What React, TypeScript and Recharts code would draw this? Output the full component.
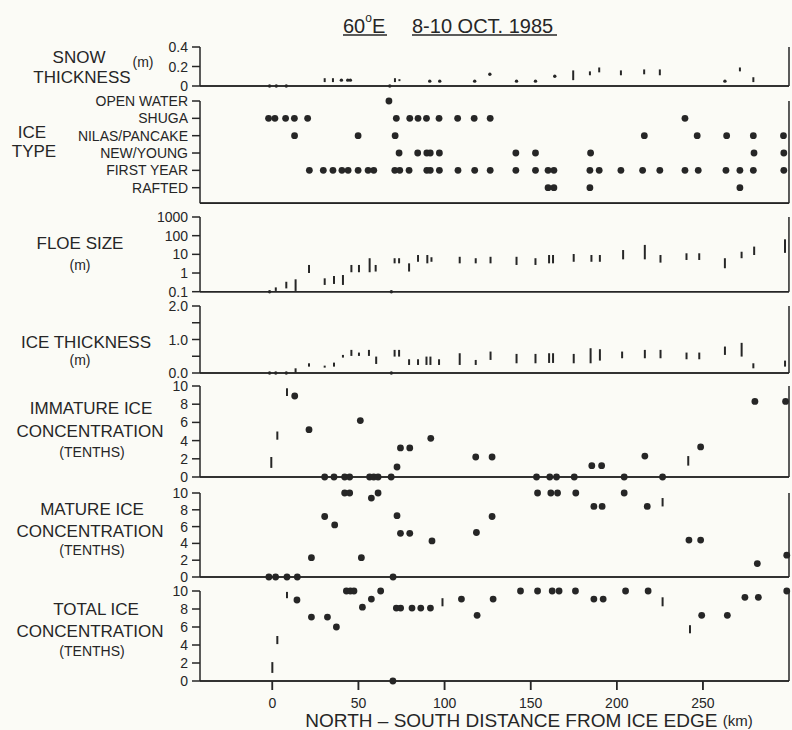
import React from 'react';
import { ComposedChart, Scatter, XAxis, YAxis, ErrorBar } from 'recharts';

// distance axis (km)
const X_DOMAIN: [number, number] = [-42, 300];
const X_TICKS = [0, 50, 100, 150, 200, 250];

// snow thickness (m): dots [km, m], bars [km, low, high]
const snowDots = [[-1.6, 0], [2.3, 0], [8.1, 0], [40.1, 0.06], [43.8, 0.06], [45.3, 0.06], [68.2, 0], [91.4, 0.05], [97.2, 0.05], [117.5, 0.05], [126.3, 0.12], [141.8, 0.05], [152.8, 0.05], [164, 0.1], [262.8, 0.05]];
const snowBars = [[30.4, 0.04, 0.08], [35.2, 0.04, 0.08], [71.2, 0.04, 0.08], [73.8, 0.05, 0.07], [174.7, 0.06, 0.16], [184.4, 0.11, 0.15], [189.8, 0.14, 0.19], [202.4, 0.11, 0.16], [215.9, 0.12, 0.17], [225, 0.11, 0.17], [271.5, 0.15, 0.19], [279.3, 0.04, 0.09]];

// ice type, bottom to top
const ICE_TYPES = ['RAFTED', 'FIRST YEAR', 'NEW/YOUNG', 'NILAS/PANCAKE', 'SHUGA', 'OPEN WATER'];
const rafted = [160.1, 163.5, 184.4, 271.5];
const firstYear = [21.5, 29.6, 35.2, 40.4, 44, 49.8, 55.6, 58.9, 71.1, 74, 79.4, 89.7, 91.7, 97, 107.8, 117.5, 126.5, 141.4, 152.8, 160.1, 163.5, 184.4, 189.8, 202.4, 215, 225, 239.6, 247.3, 263.4, 271.5, 279.3, 297];
const newYoung = [73.6, 84.4, 89.7, 91.7, 97, 141.4, 152.8, 184.8, 279.7, 297];
const nilas = [12.9, 49.8, 71.3, 216, 246.7, 263.8, 279.3, 296.8];
const shuga = [-2.2, 1.5, 7.7, 12.8, 20.5, 72, 79.8, 84.6, 89.5, 96.8, 107.6, 117.2, 126.5, 239.6];
const openWater = [67.7];

// floe size (m), log scale
const floeDots = [[-1.6, 0.1], [69.1, 0.1]];
const floeBars = [[2, 0.11, 0.17], [8.1, 0.15, 0.34], [13.5, 0.11, 0.46], [21.3, 1.0, 2.7], [30.4, 0.23, 0.52], [35.8, 0.26, 0.69], [41, 0.23, 0.78], [45.9, 1.1, 2.7], [50.3, 1.1, 2.7], [56.5, 1.1, 6.2], [60, 1.2, 2.7], [71, 3.3, 6.2], [73.6, 3.3, 6.2], [79.4, 1.2, 3.3], [84.6, 4.0, 9.2], [90, 3.3, 9.2], [92.4, 4.0, 7.0], [108.8, 3.3, 7.4], [118.1, 3.3, 6.2], [126.7, 3.3, 7.4], [141.8, 2.7, 7.4], [152.8, 2.7, 6.2], [160.7, 3.3, 9.2], [163, 3.3, 9.2], [175, 4.0, 10.4], [185.3, 4.0, 9.2], [190.2, 4.0, 9.2], [203.7, 5.4, 17], [216.3, 5.4, 32], [225.4, 3.6, 9.2], [240.5, 5.0, 11.4], [247.9, 5.0, 11.4], [262.8, 1.8, 6.2], [272.5, 6.2, 13.8], [279.8, 9.2, 26], [297.7, 12, 64]];

// ice thickness (m)
const thickDots = [[-1.6, 0], [2, 0], [8.1, 0], [69.1, 0]];
const thickBars = [[13.5, 0, 0.14], [21.3, 0.19, 0.29], [30.4, 0.16, 0.22], [35.8, 0.19, 0.31], [41, 0.46, 0.54], [45.9, 0.51, 0.69], [50.3, 0.51, 0.61], [56.1, 0.51, 0.69], [60.3, 0.27, 0.49], [71, 0.49, 0.69], [73.6, 0.49, 0.69], [79.4, 0.24, 0.41], [84.6, 0.24, 0.41], [89.5, 0.24, 0.49], [91.8, 0.24, 0.49], [96.8, 0.24, 0.41], [108.8, 0.24, 0.59], [118.1, 0.24, 0.39], [126.7, 0.39, 0.64], [141.8, 0.29, 0.57], [152.8, 0.29, 0.57], [160.7, 0.3, 0.59], [163, 0.3, 0.59], [175, 0.29, 0.57], [184.8, 0.29, 0.74], [190.2, 0.37, 0.71], [203.1, 0.44, 0.64], [216.3, 0.44, 0.69], [225.4, 0.44, 0.69], [240.5, 0.41, 0.61], [247.9, 0.41, 0.61], [262.8, 0.54, 0.79], [272.5, 0.49, 0.9], [279.3, 0.14, 0.29], [297.7, 0.19, 0.37]];

// concentrations (tenths)
const immatureDots = [[13, 8.9], [21.3, 5.2], [30.4, 0], [35.8, 0], [42, 0], [44.9, 0], [51.1, 6.2], [56.5, 0], [58.9, 0], [61.4, 0], [69, 0], [72.4, 1.1], [74.4, 3.2], [79.8, 3.2], [92, 4.25], [118.1, 2.2], [127.6, 2.2], [153.4, 0], [161.1, 0], [165, 0], [175.3, 0], [185.5, 1.25], [191.2, 1.25], [204.3, 0], [216.3, 2.3], [226.6, 0], [248.7, 3.3], [280.2, 8.3], [298, 8.3]];
const immatureBars = [[-0.6, 1.0, 2.2], [2.9, 4.1, 5.0], [8.5, 8.9, 9.75], [241.5, 1.25, 2.3]];

const matureDots = [[-2, 0], [1.9, 0], [8.5, 0], [14.5, 0], [22.7, 2.3], [30.4, 7.2], [36.2, 6.2], [42, 10], [44.9, 10], [51.7, 2.3], [57.5, 9.4], [61.4, 10], [70.1, 0], [72.4, 7.3], [74.4, 5.2], [79.8, 5.2], [92.7, 4.3], [118.5, 5.3], [127.6, 7.2], [154, 10], [161.7, 10], [165.6, 10], [176.2, 10], [186.7, 8.4], [191.5, 8.4], [204.3, 10], [217.7, 8.4], [241.9, 4.4], [248.7, 4.4], [281.6, 1.6], [298.7, 2.6]];
const matureBars = [[226.6, 8.4, 9.4]];

const totalDots = [[14.3, 9.0], [22.7, 7.1], [32, 7.1], [37.2, 6.0], [43, 10], [45.3, 10], [47.4, 10], [52.3, 8.2], [57.5, 9.1], [62.9, 10], [70, 0], [72, 8.1], [74.5, 8.1], [81.1, 8.1], [86.2, 8.1], [91.8, 8.1], [109.8, 9.1], [118.9, 7.3], [128.2, 9.1], [144.1, 10], [154, 10], [162.5, 10], [166.5, 10], [176, 10], [186.7, 9.1], [192.1, 9.1], [205.1, 10], [218.2, 10], [249.3, 7.3], [264.2, 7.3], [274.4, 9.3], [282.2, 9.3], [298.7, 10]];
const totalBars = [[0, 0.9, 2.1], [2.9, 4.1, 5.0], [8.5, 9.2, 9.9], [98.8, 8.3, 9.2], [226.6, 8.3, 9.3], [242.5, 5.3, 6.2]];

const INK = '#262626';
const BG = '#fbfbf6';
const FONT = '"Liberation Sans", Arial, Helvetica, sans-serif';

// page layout: plot spans x 200..789, panel base lines at these y
const PLOT_L = 200;
const PLOT_R = 789;
const BASES = [86, 203, 291.7, 373, 477, 577, 681];
const TICK_LEN = 9;

const toDots = (arr: number[][]) => arr.map(([x, y]) => ({ x, y }));
const toBars = (arr: number[][]) => arr.map(([x, lo, hi]) => ({ x, y: lo, err: [0, hi - lo] }));
const xPix = (v: number) => PLOT_L + ((v - X_DOMAIN[0]) / (X_DOMAIN[1] - X_DOMAIN[0])) * (PLOT_R - PLOT_L);

const iceTypeDots = [rafted, firstYear, newYoung, nilas, shuga, openWater].flatMap((xs, i) =>
  xs.map((x) => ({ x, y: i }))
);

const X_MID = (X_DOMAIN[0] + X_DOMAIN[1]) / 2;
const X_HALF = (X_DOMAIN[1] - X_DOMAIN[0]) / 2;
const none = () => <g />;

// tick labels drawn as plain text so long category names don't wrap
const yTick = (fmt: (v: number) => string) => (p: any) => (
  <text x={p.x} y={p.y} textAnchor="end" dominantBaseline="central" fontSize={14} fill={INK} fontFamily={FONT}>
    {fmt(p.payload.value)}
  </text>
);

const xTick = (p: any) => (
  <text x={p.x} y={p.y} textAnchor="middle" dominantBaseline="central" fontSize={14} fill={INK} fontFamily={FONT}>
    {p.payload.value}
  </text>
);

interface PanelProps {
  top: number;
  bottom: number;
  domain: [number, number];
  below?: number; // extra room under the base line, used for the distance tick marks
  log?: boolean;
  ticks: number[];
  fmt: (v: number) => string;
  dots?: { x: number; y: number }[];
  small?: { x: number; y: number }[];
  bars?: { x: number; y: number; err: number[] }[];
}

const Panel: React.FC<PanelProps> = ({ top, bottom, domain, below = 0, log = false, ticks, fmt, dots = [], small = [], bars = [] }) => {
  const xAxis = below > 0;
  const mt = 8;
  const mb = xAxis ? 0 : 8;
  const xh = xAxis ? 28 : 0;
  const h = bottom - top + mt + mb + xh;
  const yDomain: [number, number] = [domain[0] - below, domain[1]];
  const scaleProps = log ? { scale: 'log' as const } : {};
  const base = [{ x: X_MID, y: domain[0], ex: [X_HALF, X_HALF] }];
  const sides = xAxis ? X_DOMAIN.map((x) => ({ x, y: domain[0], ey: [0, domain[1] - domain[0]] })) : [];
  const xMarks = xAxis ? X_TICKS.map((x) => ({ x, y: yDomain[0], ey: [0, below] })) : [];
  return (
    <div style={{ position: 'absolute', left: 0, top: top - mt }}>
      <ComposedChart width={792} height={h} margin={{ top: mt, right: 0, bottom: mb, left: 140 }}>
        <XAxis
          type="number"
          dataKey="x"
          domain={X_DOMAIN}
          ticks={X_TICKS}
          height={xh}
          axisLine={false}
          tickLine={false}
          tick={xAxis ? xTick : false}
          tickSize={0}
          tickMargin={13}
        />
        <YAxis
          yAxisId="l"
          type="number"
          dataKey="y"
          {...scaleProps}
          domain={yDomain}
          ticks={ticks}
          interval={0}
          width={60}
          axisLine={xAxis ? false : { stroke: INK, strokeWidth: 1.5 }}
          tickLine={{ stroke: INK, strokeWidth: 1.5 }}
          tickSize={8}
          tickMargin={4}
          tick={yTick(fmt)}
        />
        <YAxis
          yAxisId="r"
          orientation="right"
          type="number"
          dataKey="y"
          {...scaleProps}
          domain={yDomain}
          ticks={ticks}
          interval={0}
          width={3}
          tick={false}
          tickSize={5}
          axisLine={xAxis ? false : { stroke: INK, strokeWidth: 1.5 }}
          tickLine={{ stroke: INK, strokeWidth: 1.5 }}
        />
        <Scatter yAxisId="l" data={base} isAnimationActive={false} shape={none}>
          <ErrorBar dataKey="ex" direction="x" width={0} stroke={INK} strokeWidth={1.5} />
        </Scatter>
        {xAxis && (
          <Scatter yAxisId="l" data={[...sides, ...xMarks]} isAnimationActive={false} shape={none}>
            <ErrorBar dataKey="ey" direction="y" width={0} stroke={INK} strokeWidth={1.5} />
          </Scatter>
        )}
        <Scatter
          yAxisId="l"
          data={dots}
          isAnimationActive={false}
          shape={(p: any) => <circle cx={p.cx} cy={p.cy} r={3.4} fill={INK} />}
        />
        <Scatter
          yAxisId="l"
          data={small}
          isAnimationActive={false}
          shape={(p: any) => <circle cx={p.cx} cy={p.cy} r={1.7} fill={INK} />}
        />
        <Scatter yAxisId="l" data={bars} isAnimationActive={false} shape={none}>
          <ErrorBar dataKey="err" direction="y" width={0} stroke={INK} strokeWidth={2} />
        </Scatter>
      </ComposedChart>
    </div>
  );
};

const T = ({ x, y, size = 17, children }: { x: number; y: number; size?: number; children: React.ReactNode }) => (
  <text x={x} y={y} fontSize={size} textAnchor="middle" dominantBaseline="central" fill={INK} fontFamily={FONT}>
    {children}
  </text>
);

export default function App() {
  const one = (v: number) => (v === 0 ? '0' : v.toFixed(1));
  const lastBase = BASES[BASES.length - 1];
  return (
    <div style={{ position: 'absolute', left: 0, top: 0, width: 792, height: 730, background: BG, overflow: 'hidden' }}>
      <Panel top={47} bottom={86} domain={[0, 0.4]} ticks={[0, 0.2, 0.4]} fmt={one} small={toDots(snowDots)} bars={toBars(snowBars)} />
      <Panel top={100.7} bottom={203} domain={[-0.9, 5]} ticks={[0, 1, 2, 3, 4, 5]} fmt={(v) => ICE_TYPES[v] ?? ''} dots={iceTypeDots} />
      <Panel top={217} bottom={291.7} domain={[0.1, 1000]} log ticks={[0.1, 1, 10, 100, 1000]} fmt={(v) => String(v)} small={toDots(floeDots)} bars={toBars(floeBars)} />
      <Panel top={306} bottom={373} domain={[0, 2]} ticks={[0, 0.5, 1, 1.5, 2]} fmt={(v) => (v % 1 === 0 ? v.toFixed(1) : '')} small={toDots(thickDots)} bars={toBars(thickBars)} />
      <Panel top={386} bottom={477} domain={[0, 10]} ticks={[0, 2, 4, 6, 8, 10]} fmt={(v) => String(v)} dots={toDots(immatureDots)} bars={toBars(immatureBars)} />
      <Panel top={493} bottom={577} domain={[0, 10]} ticks={[0, 2, 4, 6, 8, 10]} fmt={(v) => String(v)} dots={toDots(matureDots)} bars={toBars(matureBars)} />
      <Panel top={591} bottom={lastBase + TICK_LEN} domain={[0, 10]} below={1} ticks={[0, 2, 4, 6, 8, 10]} fmt={(v) => String(v)} dots={toDots(totalDots)} bars={toBars(totalBars)} />

      <svg width={792} height={730} style={{ position: 'absolute', left: 0, top: 0, pointerEvents: 'none' }}>
        {/* panel frame: base rules and distance tick marks */}
        {BASES.map((y) => (
          <line key={y} x1={PLOT_L} x2={PLOT_R} y1={y} y2={y} stroke={INK} strokeWidth={1.5} />
        ))}
        {X_TICKS.map((t) => (
          <line key={t} x1={xPix(t)} x2={xPix(t)} y1={lastBase} y2={lastBase + TICK_LEN} stroke={INK} strokeWidth={1.5} />
        ))}

        <text x={343} y={26} fontSize={20} fill={INK} fontFamily={FONT} dominantBaseline="central">
          60<tspan fontSize={12} dy={-8}>o</tspan><tspan dy={8}>E</tspan>
        </text>
        <line x1={343} x2={387} y1={35} y2={35} stroke={INK} strokeWidth={1.4} />
        <text x={412} y={26} fontSize={20} fill={INK} fontFamily={FONT} dominantBaseline="central">8-10 OCT. 1985</text>
        <line x1={412} x2={557} y1={35} y2={35} stroke={INK} strokeWidth={1.4} />

        <T x={79} y={57}>SNOW</T>
        <T x={82} y={77}>THICKNESS</T>
        <T x={143} y={62} size={14}>(m)</T>

        <T x={32} y={132}>ICE</T>
        <T x={34} y={151}>TYPE</T>

        <T x={80} y={243}>FLOE SIZE</T>
        <T x={80} y={265} size={14}>(m)</T>

        <T x={86} y={342}>ICE THICKNESS</T>
        <T x={80} y={360} size={14}>(m)</T>

        <T x={91} y={408}>IMMATURE ICE</T>
        <T x={90} y={431}>CONCENTRATION</T>
        <T x={92} y={452} size={14}>(TENTHS)</T>

        <T x={92} y={509}>MATURE ICE</T>
        <T x={90} y={531}>CONCENTRATION</T>
        <T x={92} y={550} size={14}>(TENTHS)</T>

        <T x={96} y={609}>TOTAL ICE</T>
        <T x={90} y={631}>CONCENTRATION</T>
        <T x={92} y={651} size={14}>(TENTHS)</T>

        <text x={529} y={720} fontSize={19} textAnchor="middle" dominantBaseline="central" fill={INK} fontFamily={FONT}>
          NORTH – SOUTH DISTANCE FROM ICE EDGE <tspan fontSize={15}>(km)</tspan>
        </text>
      </svg>
    </div>
  );
}
